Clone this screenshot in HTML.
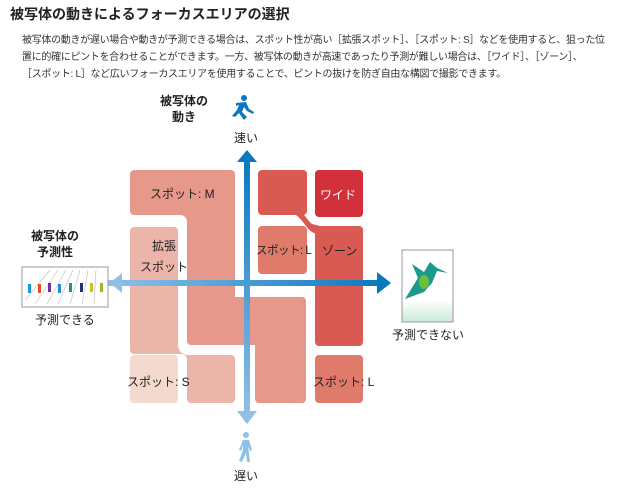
<!DOCTYPE html>
<html><head><meta charset="utf-8"><style>
body{margin:0;width:640px;height:488px;background:#fff;font-family:"Liberation Sans","Noto Sans CJK JP",sans-serif;color:#222;position:relative;overflow:hidden}
.a{position:absolute;white-space:nowrap}
.t{left:10px;top:4px;font-size:14px;font-weight:bold}
.p{left:22px;font-size:10px;letter-spacing:-0.3px;color:#333}
.l{position:absolute;font-size:12px;text-align:center;white-space:nowrap;color:#222}
</style></head><body>
<div class="a t">被写体の動きによるフォーカスエリアの選択</div>
<div class="a p" style="top:31px">被写体の動きが遅い場合や動きが予測できる場合は、スポット性が高い［拡張スポット］、［スポット: S］などを使用すると、狙った位</div>
<div class="a p" style="top:48px">置に的確にピントを合わせることができます。一方、被写体の動きが高速であったり予測が難しい場合は、［ワイド］、［ゾーン］、</div>
<div class="a p" style="top:65px">［スポット: L］など広いフォーカスエリアを使用することで、ピントの抜けを防ぎ自由な構図で撮影できます。</div>

<svg style="position:absolute;left:0;top:0" width="640" height="488">
<defs>
<linearGradient id="gv" x1="0" y1="0" x2="0" y2="1"><stop offset="0" stop-color="#0a78c0"/><stop offset="1" stop-color="#8fc0e6"/></linearGradient>
<linearGradient id="gh" x1="0" y1="0" x2="1" y2="0"><stop offset="0" stop-color="#8fc0e6"/><stop offset="1" stop-color="#0a78c0"/></linearGradient>
<linearGradient id="gb" x1="0" y1="0" x2="0" y2="1"><stop offset="0.7" stop-color="#fff"/><stop offset="1" stop-color="#c8ead8"/></linearGradient>
</defs>
<path d="M134 170 H231 a4 4 0 0 1 4 4 V297 H302 a4 4 0 0 1 4 4 V399 a4 4 0 0 1 -4 4 H259 a4 4 0 0 1 -4 -4 V345 H191 a4 4 0 0 1 -4 -4 V222 a7 7 0 0 0 -7 -7 H134 a4 4 0 0 1 -4 -4 V174 a4 4 0 0 1 4 -4Z" fill="#e6998a"/>
<path d="M134 227 H174 a4 4 0 0 1 4 4 V345 a10 10 0 0 0 10 10 H231 a4 4 0 0 1 4 4 V399 a4 4 0 0 1 -4 4 H191 a4 4 0 0 1 -4 -4 V360 a6 6 0 0 0 -6 -6 H134 a4 4 0 0 1 -4 -4 V231 a4 4 0 0 1 4 -4Z" fill="#ebb6a9"/>
<rect x="130" y="355" width="48" height="48" rx="4" fill="#f4d9cf"/>
<rect x="258" y="170" width="49" height="45" rx="4" fill="#d95a52"/>
<path d="M300 212 C305 214,307 220,312 224 L320 226 L320 236 L312 232 C306 228,303 220,296 215 Z" fill="#d95a52"/>
<rect x="315" y="226" width="48" height="120" rx="4" fill="#d95a52"/>
<rect x="315" y="170" width="48" height="47" rx="4" fill="#d2303b"/>
<rect x="258" y="226" width="49" height="48" rx="4" fill="#e07b6b"/>
<rect x="315" y="355" width="48" height="48" rx="4" fill="#e07b6b"/>
<rect x="108" y="280" width="276" height="6" fill="url(#gh)"/>
<polygon points="110,283 122,273 122,293" fill="#8fc0e6"/>
<polygon points="391,283 377,272 377,294" fill="#0a78c0"/>
<rect x="244" y="158" width="6" height="256" fill="url(#gv)"/>
<polygon points="247,150 237,162 257,162" fill="#0a78c0"/>
<polygon points="247,424 237,411 257,411" fill="#8fc0e6"/>
<g fill="#0a78c0"><circle cx="244" cy="98" r="3"/><path d="M236 103 L246 102 L249 109 L254 112 L253 114 L247 111 L244 107 L242 112 L247 117 L244 120 L239 113 L235 117 L232 116 L237 110 L239 105 L236 106 Z"/></g>
<g fill="#8fc0e6"><circle cx="246" cy="435" r="3"/><path d="M243 440 H249 L252 450 L250 451 L248 446 L250 462 L247 462 L246 453 L242 462 L239 461 L243 450 L243 445 L241 451 L239 450 Z"/></g>
<rect x="22" y="267" width="86" height="40" fill="#fff" stroke="#999"/>
<g stroke="#bbb" stroke-width="0.6"><line x1="25" y1="300" x2="50" y2="270"/><line x1="35" y1="304" x2="58" y2="270"/><line x1="47" y1="304" x2="66" y2="270"/><line x1="58" y1="304" x2="73" y2="270"/><line x1="70" y1="304" x2="80" y2="270"/><line x1="82" y1="304" x2="88" y2="270"/><line x1="94" y1="304" x2="96" y2="270"/></g>
<g><rect x="28" y="284" width="3" height="9" fill="#1a9ad0"/><rect x="38" y="284" width="3" height="9" fill="#e05020"/><rect x="48" y="283" width="3" height="9" fill="#7030a0"/><rect x="58" y="284" width="3" height="9" fill="#2090d0"/><rect x="69" y="283" width="3" height="9" fill="#20a040"/><rect x="80" y="283" width="3" height="9" fill="#203080"/><rect x="90" y="283" width="3" height="9" fill="#d0c020"/><rect x="100" y="283" width="3" height="9" fill="#90c020"/></g>
<rect x="402" y="250" width="51" height="72" fill="url(#gb)" stroke="#999"/>
<path d="M405 299 L418 278 L412 264 L424 272 L430 262 L437 268 L448 273 L437 271 L432 283 L424 292 Z" fill="#1a9a8a"/>
<ellipse cx="424" cy="282" rx="5" ry="7" fill="#6cbf3a"/>
</svg>

<div class="l" style="left:160px;top:93px;font-weight:bold;line-height:16px">被写体の<br>動き</div>
<div class="l" style="left:234px;top:129px">速い</div>
<div class="l" style="left:234px;top:467px">遅い</div>
<div class="l" style="left:31px;top:228px;font-weight:bold;line-height:16px">被写体の<br>予測性</div>
<div class="l" style="left:35px;top:311px">予測できる</div>
<div class="l" style="left:392px;top:326px">予測できない</div>
<div class="l" style="left:150px;top:185px">スポット: M</div>
<div class="l" style="left:140px;top:236px;line-height:21px">拡張<br>スポット</div>
<div class="l" style="left:127px;top:373px">スポット: S</div>
<div class="l" style="left:320px;top:186px;color:#fff">ワイド</div>
<div class="l" style="left:256px;top:242px;font-size:11.5px;letter-spacing:-0.5px">スポット: L</div>
<div class="l" style="left:322px;top:242px">ゾーン</div>
<div class="l" style="left:313px;top:373px">スポット: L</div>
</body></html>
